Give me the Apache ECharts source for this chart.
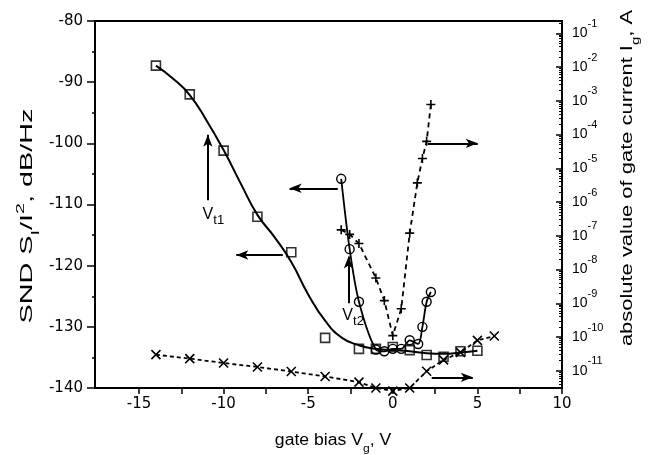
<!DOCTYPE html>
<html><head><meta charset="utf-8">
<script src="https://cdn.jsdelivr.net/npm/echarts@6/dist/echarts.min.js"></script>
<style>html,body{margin:0;padding:0;background:#fff}#c{width:648px;height:455px}</style>
</head><body><div id="c"></div><script>
// ---- data ----
const squareX   = [-14, -12, -10, -8, -6, -4, -2, -1, 0, 1, 2, 3, 4, 5];
const squareSND = [-87.3, -92, -101.2, -112, -117.8, -131.8, -133.6, -133.6, -133.3, -133.8, -134.6, -134.9, -134, -133.9];
const fitX   = [-14, -13, -12, -11, -10, -9, -8, -7, -6, -5, -4, -3, -2, -1, 0, 1, 2, 3, 4, 5];
const fitSND = [-87.3, -89.4, -92.1, -96.3, -101.1, -106.5, -111.7, -115.3, -119.4, -124.7, -129.0, -131.8, -133.0, -133.6, -133.8, -134.0, -134.3, -134.4, -134.2, -133.9];
const circleX   = [-3.05, -2.55, -2, -1, -0.5, 0, 0.5, 1, 1.5, 1.75, 2, 2.25];
const circleSND = [-105.8, -117.3, -125.9, -133.7, -134, -133.6, -133.6, -132.2, -132.8, -130, -125.9, -124.3];
const plusX  = [-3.05, -2.55, -2, -1, -0.5, 0, 0.5, 1, 1.45, 1.75, 2, 2.25];
const plusIg = [1.5e-7, 1.1e-7, 5.9e-8, 5.6e-9, 1.2e-9, 1.1e-10, 6.9e-10, 1.2e-7, 3.7e-6, 1.95e-5, 6.3e-5, 7.8e-4];
const crossX  = [-14, -12, -10, -8, -6, -4, -2, -1, 0, 1, 2, 3, 4, 5, 6];
const crossIg = [3.0e-11, 2.3e-11, 1.7e-11, 1.3e-11, 9.5e-12, 6.8e-12, 4.6e-12, 3.1e-12, 2.5e-12, 3.1e-12, 9.7e-12, 2.1e-11, 3.5e-11, 8e-11, 1.07e-10];
const xTicks = [-15, -12.5, -10, -7.5, -5, -2.5, 0, 2.5, 5, 7.5, 10];
const xLabels = [-15, -10, -5, 0, 5, 10];
const igDecades = [-11, -10, -9, -8, -7, -6, -5, -4, -3, -2, -1];
// annotation arrows [x1,y1,x2,y2] in (gate bias, SND) units
const arrows = [
  [-10.93, -109.3, -10.93, -98.6],
  [-3.25, -107.35, -6.1, -107.35],
  [-6.5, -118.25, -9.25, -118.25],
  [-2.62, -126.15, -2.62, -118.5],
  [2.07, -100, 5.02, -100],
  [2.3, -138.25, 4.73, -138.25]
];
const vLabels = [['t1', -11.24, -111.7], ['t2', -2.98, -128.2]];

const F = 'Liberation Sans, Arial, Helvetica, sans-serif';
const FW = 'DejaVu Sans, Verdana, sans-serif';
const LOGMIN = -11.51, LOGMAX = -0.635;
const minorLog = [];
for (let d = -12; d <= -1; d++) for (let k = 2; k <= 9; k++) {
  const v = d + Math.log10(k);
  if (v > LOGMIN && v < LOGMAX) minorLog.push(v);
}
const zip = (a, b) => a.map((v, i) => [v, b[i]]);
const zipLog = (a, b) => a.map((v, i) => [v, Math.log10(b[i])]);

const plusPath = 'path://M5,0L5,10M0,5L10,5';
const crossPath = 'path://M0,0L10,10M10,0L0,10';

const chart = echarts.init(document.getElementById('c'), null, {renderer: 'canvas'});
const option = {
  animation: false,
  backgroundColor: '#fff',
  grid: {left: 95, right: 86, top: 21, bottom: 67, show: true, borderColor: '#000', borderWidth: 2, backgroundColor: 'transparent'},
  xAxis: {
    type: 'value', min: -17.6, max: 10,
    axisLine: {show: true, onZero: false, lineStyle: {color: '#000', width: 2}},
    axisTick: {show: true, inside: false, length: 6, customValues: xTicks, lineStyle: {color: '#000', width: 1.5}},
    axisLabel: {customValues: xLabels, color: '#000', fontFamily: FW, fontSize: 15, margin: 9},
    splitLine: {show: false}
  },
  yAxis: [{
    type: 'value', min: -140, max: -80, interval: 10,
    axisLine: {show: true, onZero: false, lineStyle: {color: '#000', width: 2}},
    axisTick: {show: true, inside: false, length: 8, lineStyle: {color: '#000', width: 1.5}},
    minorTick: {show: true, splitNumber: 2, length: 3, lineStyle: {color: '#000', width: 1.5}},
    axisLabel: {color: '#000', fontFamily: FW, fontSize: 15, margin: 12},
    splitLine: {show: false}
  }, {
    type: 'value', min: LOGMIN, max: LOGMAX, position: 'right',
    axisLine: {show: true, onZero: false, lineStyle: {color: '#000', width: 2}},
    axisTick: {show: true, inside: true, length: 6, customValues: igDecades, lineStyle: {color: '#000', width: 1.5}},
    axisLabel: {
      customValues: igDecades, margin: 10, color: '#000',
      formatter: v => '{b|10}{s|' + Math.round(v) + '}',
      rich: {
        b: {fontFamily: F, fontSize: 14, lineHeight: 30, color: '#000'},
        s: {fontFamily: F, fontSize: 11, lineHeight: 11, verticalAlign: 'top', color: '#000'}
      }
    },
    splitLine: {show: false}
  }, {
    type: 'value', min: LOGMIN, max: LOGMAX, position: 'right',
    axisLine: {show: false, onZero: false},
    axisTick: {show: true, inside: true, length: 3, customValues: minorLog, lineStyle: {color: '#000', width: 1}},
    axisLabel: {show: false},
    splitLine: {show: false}
  }],
  series: [{
    name: 'fit', type: 'line', xAxisIndex: 0, yAxisIndex: 0,
    data: zip(fitX, fitSND), smooth: 0.5, showSymbol: false, silent: true,
    lineStyle: {color: '#000', width: 2},
    markLine: {
      silent: true, symbol: ['none', 'arrow'], symbolSize: [7, 12],
      label: {show: false}, lineStyle: {color: '#000', width: 2, type: 'solid'},
      emphasis: {disabled: true},
      data: arrows.map(a => [{coord: [a[0], a[1]]}, {coord: [a[2], a[3]]}])
    }
  }, {
    name: 'SND squares', type: 'scatter', xAxisIndex: 0, yAxisIndex: 0,
    data: zip(squareX, squareSND), symbol: 'rect', symbolSize: 9,
    itemStyle: {color: 'rgba(0,0,0,0)', borderColor: '#000', borderWidth: 1.6}
  }, {
    name: 'SND circles', type: 'line', xAxisIndex: 0, yAxisIndex: 0,
    data: zip(circleX, circleSND), smooth: 0.3, symbol: 'circle', symbolSize: 9,
    lineStyle: {color: '#000', width: 1.8},
    itemStyle: {color: 'rgba(0,0,0,0)', borderColor: '#000', borderWidth: 1.4}
  }, {
    name: 'Ig plus', type: 'line', xAxisIndex: 0, yAxisIndex: 1,
    data: zipLog(plusX, plusIg), symbol: plusPath, symbolSize: 9, symbolKeepAspect: true,
    lineStyle: {color: '#000', width: 1.8, type: [5, 4]},
    itemStyle: {color: '#000', borderColor: '#000', borderWidth: 1.6}
  }, {
    name: 'Ig cross', type: 'line', xAxisIndex: 0, yAxisIndex: 1, clip: false,
    data: zipLog(crossX, crossIg), symbol: crossPath, symbolSize: 9, symbolKeepAspect: true,
    lineStyle: {color: '#000', width: 1.8, type: [4, 3]},
    itemStyle: {color: '#000', borderColor: '#000', borderWidth: 1.6}
  }]
};
chart.setOption(option);

const richT = (txt) => ({
  text: txt,
  rich: {
    a: {fontFamily: F, fontSize: 16, lineHeight: 26, color: '#000'},
    sb: {fontFamily: F, fontSize: 11, lineHeight: 11, verticalAlign: 'bottom', color: '#000'},
    sp: {fontFamily: F, fontSize: 11, lineHeight: 11, verticalAlign: 'top', color: '#000'}
  },
  fill: '#000', align: 'center', verticalAlign: 'middle', textAlign: 'center', textVerticalAlign: 'middle'
});
const graphics = [
  {type: 'text', x: 28, y: 216, rotation: Math.PI / 2, scaleX: 1.8, style: richT('{a|SND S}{sb|I}{a|/I}{sp|2}{a|, dB/Hz}')},
  {type: 'text', x: 628, y: 178, rotation: Math.PI / 2, scaleX: 1.37, style: richT('{a|absolute value of gate current I}{sb|g}{a|, A}')},
  {type: 'text', x: 333, y: 441, scaleX: 1.1, style: richT('{a|gate bias V}{sb|g}{a|, V}')}
];
vLabels.forEach(l => {
  const p = chart.convertToPixel({xAxisIndex: 0, yAxisIndex: 0}, [l[1], l[2]]);
  graphics.push({type: 'text', x: p[0], y: p[1], style: {
    text: '{v|V}{s|' + l[0] + '}',
    rich: {
      v: {fontFamily: F, fontSize: 16, lineHeight: 24, color: '#000'},
      s: {fontFamily: F, fontSize: 13, lineHeight: 13, verticalAlign: 'bottom', color: '#000'}
    },
    align: 'left', verticalAlign: 'middle', textAlign: 'left', textVerticalAlign: 'middle', fill: '#000'
  }});
});
chart.setOption({graphic: graphics});
</script></body></html>
